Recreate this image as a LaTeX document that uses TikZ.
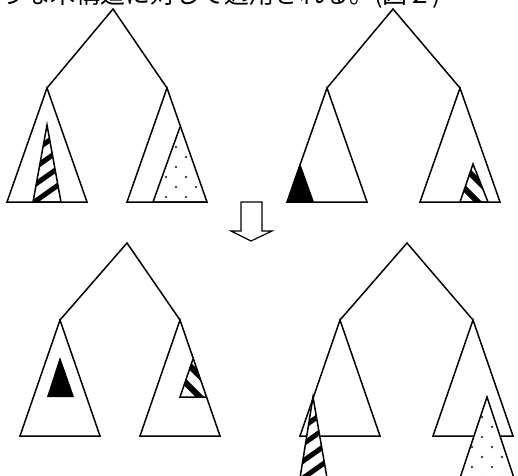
\documentclass[tikz,border=0pt]{standalone}
\usepackage{fontspec}
\newfontfamily\jpfont{Noto Sans CJK JP}
\usetikzlibrary{calc}

\newcommand\subtri[2]{\draw[edge, fill=white] ($(#1)+(-40,#2)$) -- (#1) -- ($(#1)+(40,#2)$) -- cycle;}

\begin{document}
\begin{tikzpicture}[x=1pt, y=-1pt,
    edge/.style={line width=1.5pt, line join=miter},
    branch/.style={line width=1.5pt},
    stripe/.style={line width=5pt},
    stair/.style={line width=6pt},
    dotmark/.style={fill=black!75},
    blacktri/.style={edge, fill=black},
    arr/.style={line width=1.2pt, fill=white},
  ]
  \clip (0,0) rectangle (518,475);
  \node[anchor=base west, inner sep=0pt, font=\jpfont\fontsize{25}{30}\selectfont] (cap) at (0,3) {うな木構造に対して適用される。(図２)};

  % before
  \coordinate (rA) at (113,9);  \coordinate (lA) at (47,88);  \coordinate (sA) at (167,88);
  \coordinate (rB) at (393,9);  \coordinate (lB) at (327,88); \coordinate (sB) at (460,88);
  % after
  \coordinate (rC) at (127,243); \coordinate (lC) at (60,320);  \coordinate (sC) at (180,320);
  \coordinate (rD) at (407,243); \coordinate (lD) at (340,320); \coordinate (sD) at (473,320);

  \foreach \r/\l/\s in {rA/lA/sA, rB/lB/sB, rC/lC/sC, rD/lD/sD}
    \draw[branch] (\l) -- (\r) -- (\s);
  \subtri{lA}{114} \subtri{sA}{114} \subtri{lB}{114} \subtri{sB}{114}
  \subtri{lC}{116} \subtri{sC}{116} \subtri{lD}{116} \subtri{sD}{116}

  % striped, top left
  \coordinate (hA) at (47,125);
  \begin{scope}
    \clip (hA) -- (33,202) -- (61,202) -- cycle;
    \foreach \yy in {142,159,176,193} \draw[stripe] (30,\yy+12) -- (64,\yy-12);
  \end{scope}
  \draw[edge] (hA) -- (33,202) -- (61,202) -- cycle;

  % dotted, top left
  \coordinate (pA) at (180,127);
  \begin{scope}
    \clip (pA) -- (153,202) -- (207,202) -- cycle;
    \foreach \i in {-2,...,2} \foreach \j in {0,...,3} {
      \fill[dotmark] (176+20*\i,147+20*\j) circle (1.3);
      \fill[dotmark] (186+20*\i,157+20*\j) circle (1.3);
    }
  \end{scope}
  \draw[edge] (pA) -- (153,202) -- (207,202);

  % black, top right
  \fill[blacktri] (300,163) -- (287,202) -- (314,202) -- cycle;

  % stairs, top right
  \coordinate (kB) at (473,164);
  \begin{scope}
    \clip (kB) -- (460,202) -- (488,202) -- cycle;
    \draw[stair] (454,157) -- (494,197);
    \draw[stair] (450,174) -- (490,214);
  \end{scope}
  \draw[edge] (kB) -- (460,202) -- (488,202) -- cycle;

  % black, bottom left
  \fill[blacktri] (60,357) -- (47,397) -- (74,397) -- cycle;

  % stairs, bottom left
  \coordinate (kC) at (193,359);
  \begin{scope}
    \clip (kC) -- (180,397) -- (207,397) -- cycle;
    \draw[stair] (176,352) -- (216,392);
    \draw[stair] (172,369) -- (212,409);
  \end{scope}
  \draw[edge] (kC) -- (180,397) -- (207,397);

  % striped, bottom right
  \coordinate (hD) at (313,397);
  \fill[white] (hD) -- (300,478) -- (327,478) -- cycle;
  \begin{scope}
    \clip (hD) -- (300,478) -- (327,478) -- cycle;
    \foreach \yy in {420,437,454,471} \draw[stripe] (296,\yy+12) -- (330,\yy-12);
  \end{scope}
  \draw[edge] (hD) -- (300,478) -- (327,478) -- cycle;

  % dotted, bottom right
  \coordinate (pD) at (487,397);
  \fill[white] (pD) -- (460,478) -- (514,478) -- cycle;
  \begin{scope}
    \clip (pD) -- (460,478) -- (514,478) -- cycle;
    \foreach \i in {-2,...,2} \foreach \j in {0,...,3} {
      \fill[dotmark] (482+20*\i,417+20*\j) circle (1.3);
      \fill[dotmark] (492+20*\i,427+20*\j) circle (1.3);
    }
  \end{scope}
  \draw[edge] (pD) -- (460,478) -- (514,478) -- cycle;

  % arrow
  \draw[arr] (241,202) -- (262,202) -- (262,231) -- (272,231) -- (251,241) -- (231,231) -- (241,231) -- cycle;
\end{tikzpicture}
\end{document}
